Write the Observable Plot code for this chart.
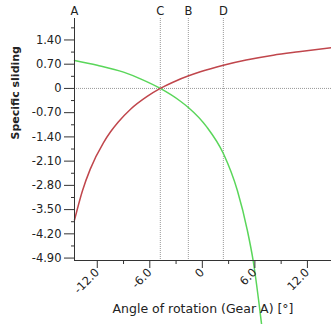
<!DOCTYPE html>
<html>
<head>
<meta charset="utf-8">
<script src="https://cdn.jsdelivr.net/npm/d3@7"></script>
<script src="https://cdn.jsdelivr.net/npm/@observablehq/plot@0.6"></script>
<style>
  html, body { margin: 0; padding: 0; background: #fff; }
  svg { display: block; }
</style>
</head>
<body>
<div id="chart"></div>
<script>
// Gear A specific sliding (red) and gear B specific sliding (green)
const redX = [-14.6, -13.7, -12.8, -11.3, -10.5, -9.6, -8.2, -6.3, -4.8, -2.9, -0.23, 2.4, 5.0, 8.1, 11.0, 14.75];
const redY = [-3.8, -2.96, -2.33, -1.57, -1.26, -0.97, -0.6, -0.23, 0, 0.23, 0.48, 0.67, 0.82, 0.96, 1.06, 1.18];
const greenX = [-14.6, -12, -9, -7, -4.8, -2.5, -1.6, 0.5, 2.4, 4.0, 5.14, 5.8, 6.83];
const greenY = [0.81, 0.67, 0.47, 0.27, 0, -0.37, -0.55, -1.11, -1.88, -2.95, -4.1, -4.97, -6.95];
const markerNames = ["A", "C", "B", "D"];
const markerX = [-14.6, -4.8, -1.6, 2.4];
const yTicks = [1.4, 0.7, 0, -0.7, -1.4, -2.1, -2.8, -3.5, -4.2, -4.9];
const yMinor = [1.75, 1.05, 0.35, -0.35, -1.05, -1.75, -2.45, -3.15, -3.85, -4.55];
const xTicks = [-12, -6, 0, 6, 12];
const xTickLabels = ["-12.0", "-6.0", "0", "6.0", "12.0"];
const xMinor = [-9, -3, 3, 9];

const red = redX.map((x, i) => ({x, y: redY[i]}));
const green = greenX.map((x, i) => ({x, y: greenY[i]}));
const markers = markerNames.map((name, i) => ({name, x: markerX[i]}));

const xMin = -14.6, xMax = 14.75, yMin = -4.97, yMax = 2.02;
const axisColor = "#333";
const fmtY = d => d === 0 ? "0" : d.toFixed(2);

const chart = Plot.plot({
  width: 331,
  height: 324,
  marginLeft: 74,
  marginRight: 0,
  marginTop: 18,
  marginBottom: 64,
  style: {fontFamily: "DejaVu Sans", fontSize: "11px", color: "#222", background: "#fff"},
  x: {domain: [xMin, xMax], axis: null},
  y: {domain: [yMin, yMax], axis: null},
  marks: [
    Plot.ruleY([0], {stroke: "#999", strokeDasharray: "1,1", strokeWidth: 1}),
    Plot.ruleX(markers.slice(1), {x: "x", stroke: "#999", strokeDasharray: "1,1", strokeWidth: 1}),
    Plot.line(green, {x: "x", y: "y", stroke: "#5ad65a", strokeWidth: 1.5, curve: "monotone-x"}),
    Plot.line(red, {x: "x", y: "y", stroke: "#c0464c", strokeWidth: 1.5, curve: "monotone-x"}),
    Plot.ruleX([xMin], {stroke: axisColor, strokeWidth: 1}),
    Plot.ruleY([yMin], {stroke: axisColor, strokeWidth: 1}),
    Plot.axisY({ticks: yTicks, tickFormat: fmtY, tickSize: 10, tickPadding: 3, stroke: axisColor, fill: "#222", fontSize: 11.5, label: null}),
    Plot.axisY({ticks: yMinor, tickSize: 3, text: null, stroke: axisColor, label: null}),
    Plot.axisX({ticks: xTicks, tickFormat: (d, i) => xTickLabels[i], tickSize: 8, tickRotate: -45, tickPadding: 2, stroke: axisColor, fill: "#222", fontSize: 11.5, label: null}),
    Plot.axisX({ticks: xMinor, tickSize: 4, text: null, stroke: axisColor, label: null}),
    Plot.text(markers, {x: "x", y: yMax, text: "name", dy: -7, fill: "#222", fontSize: 11.5}),
    Plot.text(["Angle of rotation (Gear A) [°]"], {frameAnchor: "bottom", dy: 52, fill: "#222", fontSize: 12.5}),
    Plot.text(["Specific sliding"], {frameAnchor: "left", dx: -59, rotate: -90, fill: "#222", fontSize: 11, fontWeight: "bold"})
  ]
});
document.getElementById("chart").appendChild(chart);
</script>
</body>
</html>
